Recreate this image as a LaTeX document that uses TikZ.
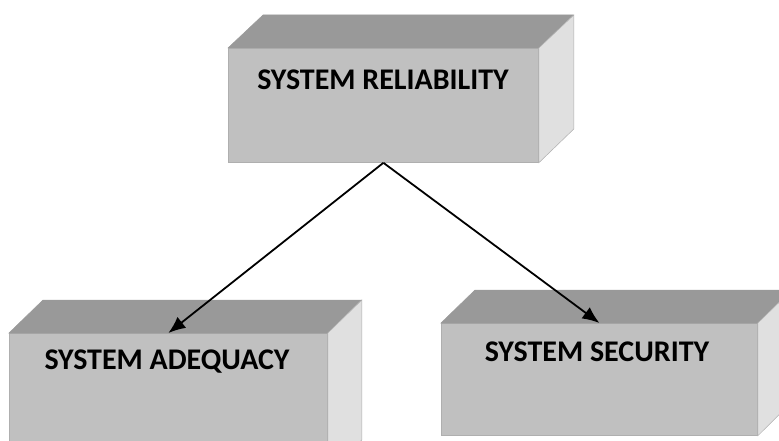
\documentclass[tikz,border=0pt]{standalone}
\usepackage{fontspec}
\setmainfont{Carlito}
\usetikzlibrary{arrows.meta}
\definecolor{frontc}{RGB}{192,192,192}
\definecolor{topc}{RGB}{153,153,153}
\definecolor{sidec}{RGB}{224,224,224}
\definecolor{edgec}{RGB}{175,175,175}
\tikzset{
  front/.style={draw=edgec,line width=0.8pt,fill=frontc,rectangle,inner sep=0pt,anchor=north west},
  topface/.style={fill=topc,draw=topc,line width=0.5pt},
  sideface/.style={fill=sidec,draw=edgec,line width=0.5pt},
  lbl/.style={font=\bfseries\fontsize{30}{36}\selectfont,text=black},
  conn/.style={line width=1.8pt,-{Latex[length=17pt,width=14pt]}}
}
\begin{document}
\begin{tikzpicture}[x=1pt,y=-1pt]
\useasboundingbox (0,0) rectangle (779,441);
\clip (0,0) rectangle (779,441);
% top box
\node[front,minimum width=310pt,minimum height=114pt] (rel) at (228,48) {};
\path[topface] (rel.north west) -- ++(35,-33) -- ++(310,0) -- (rel.north east) -- cycle;
\path[sideface] (rel.north east) -- ++(35,-33) -- ++(0,114) -- (rel.south east) -- cycle;
\node[lbl] (relt) at (383,80) {SYSTEM RELIABILITY};
% left box
\node[front,minimum width=318pt,minimum height=140pt] (adq) at (9,333) {};
\path[topface] (adq.north west) -- ++(34,-33) -- ++(318,0) -- (adq.north east) -- cycle;
\path[sideface] (adq.north east) -- ++(34,-33) -- ++(0,140) -- (adq.south east) -- cycle;
\node[lbl] (adqt) at (167,362) {SYSTEM ADEQUACY};
% right box
\node[front,minimum width=316pt,minimum height=112pt] (sec) at (441,323) {};
\path[topface] (sec.north west) -- ++(34,-33) -- ++(316,0) -- (sec.north east) -- cycle;
\path[sideface] (sec.north east) -- ++(34,-33) -- ++(0,112) -- (sec.south east) -- cycle;
\node[lbl] (sect) at (597,352) {SYSTEM SECURITY};
% connectors
\draw[conn] (rel.south) -- (adq.north);
\draw[conn] (rel.south) -- (sec.north);
\end{tikzpicture}
\end{document}
